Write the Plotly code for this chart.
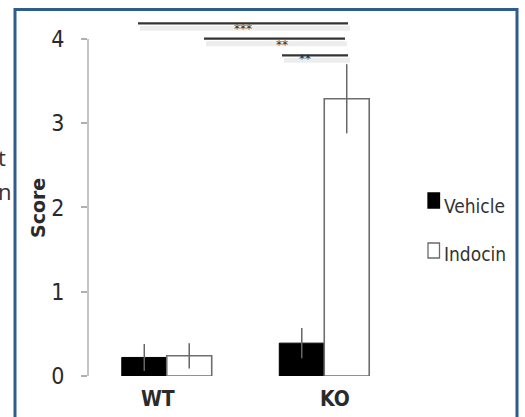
import plotly.graph_objects as go

# ---- data ----
categories = ["WT", "KO"]
series_names = ["Vehicle", "Indocin"]
vehicle_mean = [0.22, 0.39]
vehicle_err = [0.16, 0.18]
indocin_mean = [0.24, 3.29]
indocin_err = [0.15, 0.41]
y_ticks = [0, 1, 2, 3, 4]
sig_labels = ["***", "**", "**"]

W, H = 525, 417
ML, MR, MT, MB = 88, 122, 12, 41
PW = W - ML - MR
PH = H - MT - MB
Y_TOP = 4.32


def px(x):
    return (x - ML) / PW


def py(y):
    return (H - MB - y) / PH


NARROW = "Liberation Sans Narrow, DejaVu Sans Condensed, Arial Narrow, sans-serif"
TXT = "#2a2a2a"

fig = go.Figure()
fig.add_trace(go.Bar(
    x=categories, y=vehicle_mean, name=series_names[0],
    marker=dict(color="black", line=dict(color="black", width=1)),
    error_y=dict(type="data", array=vehicle_err, visible=True,
                 color="#666", thickness=1.5, width=0),
    showlegend=False,
))
fig.add_trace(go.Bar(
    x=categories, y=indocin_mean, name=series_names[1],
    marker=dict(color="white", line=dict(color="#6e6e6e", width=1.6)),
    error_y=dict(type="data", array=indocin_err, visible=True,
                 color="#666", thickness=1.5, width=0),
    showlegend=False,
))

shapes = []
# frame
shapes.append(dict(type="rect", xref="paper", yref="paper",
                   x0=px(15), x1=px(517), y0=py(440), y1=py(9.5),
                   line=dict(color="#2d5d8d", width=3), fillcolor="rgba(0,0,0,0)",
                   layer="below"))
# y axis line from 0 to 4
shapes.append(dict(type="line", xref="paper", yref="y", x0=0, x1=0,
                   y0=0, y1=max(y_ticks), line=dict(color="#b0b0b0", width=1.5)))

# significance bars (pixel positions of the annotation layout)
sig_lines = [(138, 348, 23.3, 243, 17), (204, 345, 38.7, 282, 33), (282, 348, 55.3, 313, 48)]
annotations = []
for (x0, x1, yy, sx, sy), lab in zip(sig_lines, sig_labels):
    shapes.append(dict(type="line", xref="paper", yref="paper",
                       x0=px(x0 + 2), x1=px(x1 + 2), y0=py(yy + 5), y1=py(yy + 5),
                       line=dict(color="rgba(0,0,0,0.07)", width=5)))
    shapes.append(dict(type="line", xref="paper", yref="paper",
                       x0=px(x0), x1=px(x1), y0=py(yy), y1=py(yy),
                       line=dict(color="#333", width=2.2)))
    annotations.append(dict(xref="paper", yref="paper", x=px(sx), y=py(sy + 2.5),
                            text=lab, showarrow=False,
                            font=dict(family="DejaVu Sans, sans-serif", size=12, color="#333")))

# legend (manual)
leg = [(series_names[0], "black", "black", 200.5, 205.5),
       (series_names[1], "white", "#6a6a6a", 250.5, 253.5)]
for name, fc, lc, sqy, ty in leg:
    shapes.append(dict(type="rect", xref="paper", yref="paper",
                       x0=px(428), x1=px(439.5), y0=py(sqy + 7.5), y1=py(sqy - 7.5),
                       fillcolor=fc, line=dict(color=lc, width=1.3)))
    annotations.append(dict(xref="paper", yref="paper", x=px(442), y=py(ty),
                            xanchor="left", yanchor="middle", text=name, showarrow=False,
                            font=dict(family=NARROW, size=19, color="#333")))

# category labels
for cat, cx in zip(categories, [158, 335]):
    annotations.append(dict(xref="paper", yref="paper", x=px(cx), y=py(399),
                            xanchor="center", yanchor="middle", text="<b>%s</b>" % cat,
                            showarrow=False, font=dict(family=NARROW, size=21, color=TXT)))

# y title
annotations.append(dict(xref="paper", yref="paper", x=px(37.5), y=py(207.5),
                        text="<b>Score</b>", textangle=-90, showarrow=False,
                        xanchor="center", yanchor="middle",
                        font=dict(family="DejaVu Sans, sans-serif", size=19, color=TXT)))

# cut-off text fragments at the left edge
for t, yy in [("t", 157), ("n", 191)]:
    annotations.append(dict(xref="paper", yref="paper", x=px(0), y=py(yy),
                            xanchor="left", xshift=-4, yanchor="middle", text=t, showarrow=False,
                            font=dict(family="Open Sans, sans-serif", size=22, color="#333")))

fig.update_layout(
    width=W, height=H,
    margin=dict(l=ML, r=MR, t=MT, b=MB),
    paper_bgcolor="white", plot_bgcolor="white",
    barmode="group", bargap=0.429, bargroupgap=0,
    shapes=shapes, annotations=annotations,
    showlegend=False,
    xaxis=dict(range=[-0.5, 1.5], showticklabels=False, ticks="", showline=False,
               showgrid=False, zeroline=False, fixedrange=True),
    yaxis=dict(range=[0, Y_TOP], tickvals=y_ticks, ticktext=[str(v) for v in y_ticks],
               ticks="outside", ticklen=6, tickwidth=1.5, tickcolor="#b0b0b0",
               showline=False, showgrid=False, zeroline=False,
               ticklabelstandoff=12,
               tickfont=dict(family=NARROW, size=23, color=TXT)),
)

fig.write_html("out.html", config={"displayModeBar": False},
               post_script="document.body.style.margin='0';document.body.style.overflow='hidden';")
